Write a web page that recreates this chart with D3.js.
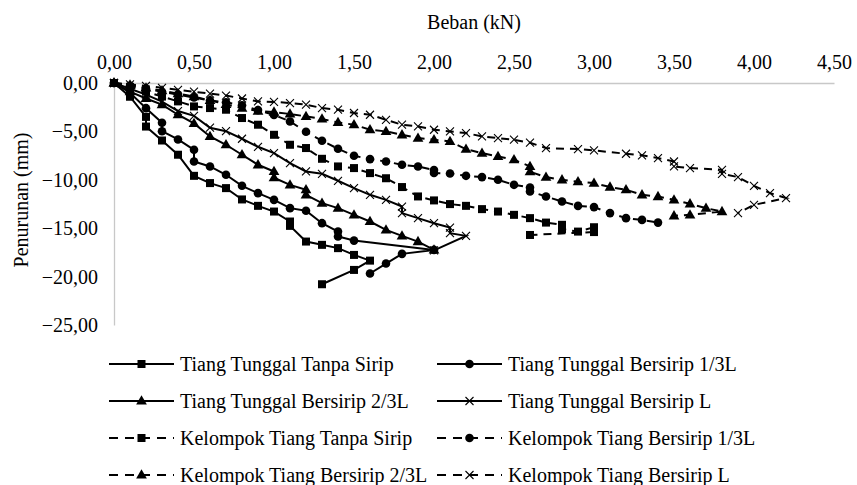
<!DOCTYPE html>
<html>
<head>
<meta charset="utf-8">
<script src="https://cdn.jsdelivr.net/npm/d3@7"></script>
<style>
  body { margin: 0; background: #fff; }
  svg { font-family: "Liberation Serif", "Times New Roman", serif; }
</style>
</head>
<body>
<div id="chart"></div>
<script>
// tick values
var xTicks = [0, 0.5, 1, 1.5, 2, 2.5, 3, 3.5, 4, 4.5];
var yTicks = [0, -5, -10, -15, -20, -25];

// Tiang Tunggal Tanpa Sirip
var ttTanpaLoad = [0, 0.1, 0.2, 0.2, 0.3, 0.4, 0.5, 0.6, 0.7, 0.8, 0.9, 1.0, 1.1, 1.1, 1.2, 1.3, 1.4, 1.5, 1.6, 1.5, 1.3];
var ttTanpaSettle = [0, -1.42, -3.5, -4.5, -5.94, -7.41, -9.59, -10.34, -10.86, -12.03, -12.69, -13.28, -14.31, -14.76, -16.38, -16.72, -17.06, -17.76, -18.35, -19.31, -20.79];

// Tiang Tunggal Bersirip 1/3L
var tt13Load = [0, 0.1, 0.2, 0.3, 0.3, 0.4, 0.5, 0.5, 0.6, 0.7, 0.8, 0.9, 1.0, 1.1, 1.2, 1.3, 1.4, 1.4, 1.5, 2.0, 1.8, 1.7, 1.6];
var tt13Settle = [0, -1.0, -2.6, -4.11, -4.98, -5.83, -6.90, -8.11, -8.62, -9.48, -10.62, -11.38, -12.07, -12.93, -13.2, -14.48, -15.35, -15.86, -16.28, -17.24, -17.65, -18.65, -19.68];

// Tiang Tunggal Bersirip 2/3L
var tt23Load = [0, 0.1, 0.2, 0.3, 0.4, 0.5, 0.6, 0.7, 0.8, 0.9, 1.0, 1.0, 1.1, 1.2, 1.2, 1.3, 1.4, 1.5, 1.6, 1.7, 1.8, 1.9, 2.0];
var tt23Settle = [0, -0.9, -1.6, -2.24, -3.28, -4.17, -5.52, -6.38, -7.41, -8.45, -9.14, -9.79, -10.52, -11.03, -11.55, -12.41, -12.93, -13.62, -14.31, -15.17, -15.79, -16.38, -17.24];

// Tiang Tunggal Bersirip L
var ttLLoad = [0, 0.1, 0.2, 0.3, 0.4, 0.5, 0.6, 0.7, 0.8, 0.9, 1.0, 1.1, 1.2, 1.3, 1.4, 1.5, 1.6, 1.7, 1.8, 1.8, 1.9, 2.0, 2.1, 2.1, 2.2, 2.0];
var ttLSettle = [0, -0.6, -1.2, -1.93, -2.9, -3.4, -4.62, -4.98, -5.76, -6.59, -7.24, -8.27, -9.14, -9.38, -10.10, -10.86, -11.55, -12.07, -12.76, -13.44, -13.96, -14.48, -14.93, -15.51, -15.79, -17.3];

// Kelompok Tiang Tanpa Sirip
var kTanpaLoad = [0, 0.1, 0.2, 0.3, 0.4, 0.5, 0.6, 0.7, 0.8, 0.9, 1.0, 1.1, 1.2, 1.3, 1.4, 1.5, 1.6, 1.7, 1.8, 1.9, 2.0, 2.1, 2.2, 2.3, 2.4, 2.5, 2.6, 2.7, 2.8, 2.8, 2.9, 3.0, 3.0, 2.6];
var kTanpaSettle = [0, -0.4, -0.9, -1.4, -1.9, -2.42, -2.59, -2.76, -3.62, -4.31, -5.35, -6.38, -6.72, -7.83, -8.62, -8.79, -9.31, -9.84, -10.75, -11.72, -12.13, -12.51, -12.69, -13.03, -13.28, -13.62, -13.96, -14.42, -14.65, -15.1, -15.35, -14.9, -15.4, -15.7];

// Kelompok Tiang Bersirip 1/3L
var k13Load = [0, 0.1, 0.2, 0.3, 0.4, 0.5, 0.6, 0.7, 0.8, 0.9, 1.0, 1.1, 1.2, 1.3, 1.4, 1.5, 1.6, 1.7, 1.8, 1.9, 2.0, 2.0, 2.1, 2.2, 2.3, 2.4, 2.5, 2.6, 2.6, 2.7, 2.8, 2.9, 3.0, 3.1, 3.2, 3.3, 3.4];
var k13Settle = [0, -0.3, -0.6, -0.9, -1.2, -1.5, -1.8, -2.0, -2.3, -2.8, -3.3, -3.97, -5.04, -5.97, -6.79, -7.52, -7.86, -8.11, -8.45, -8.62, -9.0, -9.3, -9.35, -9.59, -9.72, -10.0, -10.52, -10.8, -11.2, -11.73, -12.24, -12.69, -12.82, -13.44, -13.96, -14.14, -14.42];

// Kelompok Tiang Bersirip 2/3L
var k23Load = [0, 0.1, 0.2, 0.3, 0.4, 0.5, 0.6, 0.7, 0.8, 0.9, 1.0, 1.1, 1.2, 1.3, 1.4, 1.5, 1.6, 1.7, 1.8, 1.9, 2.0, 2.1, 2.2, 2.3, 2.4, 2.5, 2.6, 2.6, 2.7, 2.8, 2.9, 3.0, 3.1, 3.2, 3.3, 3.4, 3.5, 3.6, 3.7, 3.8, 3.6, 3.5];
var k23Settle = [0, -0.2, -0.5, -0.8, -1.1, -1.4, -1.8, -2.2, -2.6, -2.9, -3.0, -3.2, -3.45, -3.72, -4.07, -4.31, -4.83, -5.0, -5.35, -5.69, -5.86, -6.04, -6.83, -7.24, -7.59, -7.93, -8.62, -9.17, -9.72, -10.0, -10.2, -10.34, -10.75, -11.03, -11.55, -11.73, -12.07, -12.48, -12.93, -13.28, -13.62, -13.72];

// Kelompok Tiang Bersirip L
var kLLoad = [0, 0.1, 0.2, 0.3, 0.4, 0.5, 0.6, 0.7, 0.8, 0.9, 1.0, 1.1, 1.2, 1.3, 1.4, 1.5, 1.6, 1.7, 1.8, 1.9, 2.0, 2.1, 2.2, 2.3, 2.4, 2.5, 2.6, 2.7, 2.9, 3.0, 3.2, 3.3, 3.4, 3.5, 3.5, 3.6, 3.8, 3.8, 3.9, 4.0, 4.1, 4.2, 4.0, 3.9];
var kLSettle = [0, -0.15, -0.3, -0.5, -0.7, -0.9, -1.1, -1.3, -1.6, -1.9, -1.95, -2.07, -2.24, -2.59, -2.76, -3.10, -3.28, -3.80, -4.31, -4.49, -4.83, -5.0, -5.17, -5.52, -5.69, -5.86, -6.17, -6.72, -6.83, -6.97, -7.31, -7.47, -7.76, -8.11, -8.62, -8.79, -8.97, -9.38, -9.72, -10.62, -11.38, -11.89, -12.59, -13.44];

var series = [
  { name: "Tiang Tunggal Tanpa Sirip", load: ttTanpaLoad, settle: ttTanpaSettle, marker: "square", dashed: false },
  { name: "Tiang Tunggal Bersirip 1/3L", load: tt13Load, settle: tt13Settle, marker: "circle", dashed: false },
  { name: "Tiang Tunggal Bersirip 2/3L", load: tt23Load, settle: tt23Settle, marker: "triangle", dashed: false },
  { name: "Tiang Tunggal Bersirip L", load: ttLLoad, settle: ttLSettle, marker: "cross", dashed: false },
  { name: "Kelompok Tiang Tanpa Sirip", load: kTanpaLoad, settle: kTanpaSettle, marker: "square", dashed: true },
  { name: "Kelompok Tiang Bersirip 1/3L", load: k13Load, settle: k13Settle, marker: "circle", dashed: true },
  { name: "Kelompok Tiang Bersirip 2/3L", load: k23Load, settle: k23Settle, marker: "triangle", dashed: true },
  { name: "Kelompok Tiang Bersirip L", load: kLLoad, settle: kLSettle, marker: "cross", dashed: true }
];

var width = 857, height = 485;
var margin = { top: 83, right: 23, bottom: 160, left: 114 };
var fontSize = 20;

var svg = d3.select("#chart").append("svg")
  .attr("width", width)
  .attr("height", height);

var x = d3.scaleLinear().domain([0, 4.5]).range([margin.left, width - margin.right]);
var y = d3.scaleLinear().domain([0, -25]).range([margin.top, height - margin.bottom]);

var fmt = function(d) { return d3.format(".2f")(d).replace(".", ","); };

// axes on top / left, grey lines without ticks
var xAxis = svg.append("g")
  .attr("transform", "translate(0," + y(0) + ")")
  .call(d3.axisTop(x).tickValues(xTicks).tickFormat(fmt).tickSize(0).tickPadding(14));
var yAxis = svg.append("g")
  .attr("transform", "translate(" + x(0) + ",0)")
  .call(d3.axisLeft(y).tickValues(yTicks).tickFormat(fmt).tickSize(0).tickPadding(16));

[xAxis, yAxis].forEach(function(a) {
  a.select(".domain").attr("stroke", "#c8c8c8").attr("stroke-width", 1.3);
  a.selectAll("text")
    .attr("font-family", "Liberation Serif")
    .attr("font-size", fontSize)
    .attr("fill", "#000");
});

svg.append("text")
  .attr("x", (x(0) + x(4.5)) / 2)
  .attr("y", 29)
  .attr("text-anchor", "middle")
  .attr("font-size", fontSize)
  .text("Beban (kN)");

svg.append("text")
  .attr("transform", "translate(28," + ((y(0) + y(-25)) / 2 - 4) + ") rotate(-90)")
  .attr("text-anchor", "middle")
  .attr("font-size", fontSize)
  .text("Penurunan (mm)");

function drawMarker(g, type, cx, cy) {
  if (type === "square") {
    g.append("rect").attr("x", cx - 4).attr("y", cy - 4).attr("width", 8).attr("height", 8).attr("fill", "#000");
  } else if (type === "circle") {
    g.append("circle").attr("cx", cx).attr("cy", cy).attr("r", 4.3).attr("fill", "#000");
  } else if (type === "triangle") {
    g.append("path").attr("d", d3.symbol().type(d3.symbolTriangle).size(50)()).attr("transform", "translate(" + cx + "," + (cy + 0.5) + ")").attr("fill", "#000");
  } else {
    g.append("path")
      .attr("d", "M" + (cx - 4) + "," + (cy - 4) + "L" + (cx + 4) + "," + (cy + 4) + "M" + (cx - 4) + "," + (cy + 4) + "L" + (cx + 4) + "," + (cy - 4))
      .attr("stroke", "#000").attr("stroke-width", 1.1).attr("fill", "none");
  }
}

var line = d3.line()
  .x(function(d) { return x(d[0]); })
  .y(function(d) { return y(d[1]); });

series.forEach(function(s) {
  var pts = s.load.map(function(l, i) { return [l, s.settle[i]]; });
  var g = svg.append("g");
  g.append("path")
    .datum(pts)
    .attr("d", line)
    .attr("fill", "none")
    .attr("stroke", "#000")
    .attr("stroke-width", 2)
    .attr("stroke-dasharray", s.dashed ? "8,6" : null);
  pts.forEach(function(p) { drawMarker(g, s.marker, x(p[0]), y(p[1])); });
});

// legend, two columns
var legendRows = [364, 401, 438, 475];
var legendCols = [{ x0: 109, x1: 174, tx: 180 }, { x0: 437, x1: 502, tx: 508 }];
series.forEach(function(s, i) {
  var col = legendCols[i % 2], ry = legendRows[Math.floor(i / 2)];
  var g = svg.append("g");
  g.append("line")
    .attr("x1", col.x0).attr("x2", col.x1)
    .attr("y1", ry).attr("y2", ry)
    .attr("stroke", "#000").attr("stroke-width", 2)
    .attr("stroke-dasharray", s.dashed ? "9,7" : null);
  drawMarker(g, s.marker, (col.x0 + col.x1) / 2, ry);
  g.append("text")
    .attr("x", col.tx).attr("y", ry)
    .attr("dy", "0.33em")
    .attr("font-size", fontSize)
    .text(s.name);
});
</script>
</body>
</html>
